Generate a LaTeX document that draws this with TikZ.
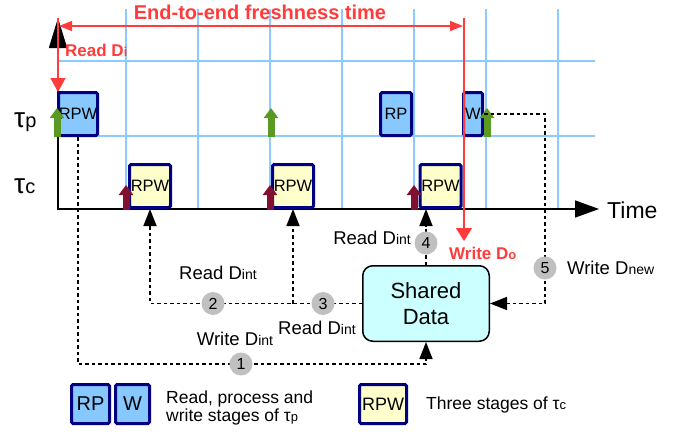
\documentclass[tikz,border=0pt]{standalone}
\usepackage{fontspec}
\setmainfont{Liberation Sans}
\usetikzlibrary{arrows.meta}

\definecolor{gridblue}{HTML}{8CCBFF}
\definecolor{boxblue}{HTML}{87C8FF}
\definecolor{navy}{HTML}{000080}
\definecolor{paleyellow}{HTML}{FFFFCC}
\definecolor{palecyan}{HTML}{CCFFFF}
\definecolor{freshred}{HTML}{FF3B3B}
\definecolor{relgreen}{HTML}{5B9A22}
\definecolor{relmaroon}{HTML}{7F1030}
\definecolor{stepgrey}{HTML}{C0C0C0}

\newcommand\fsz[1]{\fontsize{#1}{#1}\selectfont}
\newcommand\lo[1]{{\fsz{14}#1}}
\newcommand\rlo[1]{{\fsz{13}#1}}

\begin{document}
\begin{tikzpicture}[x=1pt,y=-1pt,
  gridline/.style={draw=gridblue, line width=2pt},
  axisline/.style={line width=1.6pt, line join=miter},
  stage/.style={draw=navy, line width=3pt, rounded corners=1.5pt, inner sep=0pt, font=\fsz{16.5}},
  pstage/.style={stage, fill=boxblue, minimum height=43pt},
  cstage/.style={stage, fill=paleyellow, minimum width=41pt, minimum height=43pt},
  fresh/.style={draw=freshred, line width=1.5pt},
  release/.style={line width=7pt, -{Triangle[length=10pt,width=14pt]}},
  flow/.style={line width=1.5pt, dash pattern=on 3.5pt off 3pt, -{Triangle[length=17pt,width=13pt]}},
  stepno/.style={circle, fill=stepgrey, minimum size=23pt, inner sep=0pt, font=\fsz{16}},
  lab/.style={inner sep=0pt, font=\fsz{18.5}},
  redlab/.style={inner sep=0pt, text=freshred, font=\bfseries\fsz{17}},
  legend/.style={inner sep=0pt, font=\fsz{17.5}, align=left},
]
\useasboundingbox[fill=white] (0,0) rectangle (686,434);

% time grid
\foreach \gx in {126,198,270,342,414,486,558}
  \draw[gridline] (\gx,9) -- (\gx,209);
\foreach \gy in {61,136}
  \draw[gridline] (58,\gy) -- (595,\gy);

% axes
\draw[axisline, {Triangle[length=30pt,width=18pt]}-{Triangle[length=24pt,width=17pt]}]
  (58,18) -- (58,209) -- (599,209);
\node[inner sep=0pt, anchor=west, font=\fsz{23}] (time) at (607,210) {Time};
\node[inner sep=0pt, anchor=base west] (taup) at (14,127) {{\fsz{28}τ}{\fsz{20}p}};
\node[inner sep=0pt, anchor=base west] (tauc) at (14,193) {{\fsz{28}τ}{\fsz{20}c}};

% producer stages
\node[pstage, minimum width=39pt] (p1) at (78,114) {RPW};
\node[pstage, minimum width=31pt] (prp) at (396,114) {RP};
\node[pstage, minimum width=19pt] (pw) at (473,114) {W};

% end-to-end freshness interval
\node[inner sep=0pt, text=freshred, font=\bfseries\fsz{20}] (e2e) at (260,12) {End-to-end freshness time};
\draw[fresh, {Triangle[length=13pt,width=10pt]}-{Triangle[length=13pt,width=10pt]}] (59,26) -- (463,26);
\draw[fresh, -{Triangle[length=14pt,width=15pt]}] (58,18) -- (58,92);
\draw[fresh, -{Triangle[length=13pt,width=16pt]}] (464,18) -- (464,241);
\node[redlab, anchor=west] (readdi) at (65,50) {Read D\rlo{i}};
\node[redlab, anchor=west] (writedo) at (449,253) {Write D\rlo{o}};

% consumer stages
\node[cstage] (c1) at (150,186) {RPW};
\node[cstage] (c2) at (293,186) {RPW};
\node[cstage] (c3) at (440.5,186) {RPW};

% release arrows
\foreach \rx in {57,271,487}
  \draw[release, relgreen] (\rx,137) -- (\rx,108);
\foreach \rx in {126,270,414}
  \draw[release, relmaroon] (\rx,210) -- (\rx,185);

% shared data and accesses
\node[draw, line width=1.5pt, fill=palecyan, rounded corners=10pt,
      minimum width=126.5pt, minimum height=75.5pt, align=center,
      font=\fsz{22}, inner sep=0pt] (sd) at (426,303.5)
      {Shared\\[4pt]Data};

\coordinate (k1) at (241,364);
\coordinate (k2) at (213,303.5);
\coordinate (k3) at (323,303.5);
\coordinate (k4) at (426,243);
\coordinate (k5) at (545,268);

\draw[flow] (p1.south) |- (k1) -| (sd.south);
\draw[flow] (sd.west) -| (c1.south);
\draw[flow] (c2.south |- sd.west) -- (c2.south);
\draw[flow] (sd.north) -- (sd.north |- c3.south);
\draw[flow] (pw.east) -| (k5) |- (sd.east);

\node[stepno] (s1) at (k1) {1};
\node[stepno] (s2) at (k2) {2};
\node[stepno] (s3) at (k3) {3};
\node[stepno] (s4) at (k4) {4};
\node[stepno] (s5) at (k5) {5};

\node[lab] (l1) at (235,339) {Write D\lo{int}};
\node[lab] (l2) at (218,273) {Read D\lo{int}};
\node[lab] (l3) at (317,328) {Read D\lo{int}};
\node[lab, anchor=east] (l4) at (411,238) {Read D\lo{int}};
\node[lab, anchor=west] (l5) at (567,268) {Write D\lo{new}};

% legend
\node[stage, fill=boxblue, minimum width=38pt, minimum height=39pt, font=\fsz{20}] (lrp) at (90.5,404) {RP};
\node[stage, fill=boxblue, minimum width=34pt, minimum height=39pt, font=\fsz{20}] (lw) at (132.5,404) {W};
\node[legend, anchor=west] (ltp) at (166,408) {Read, process and\\[1pt]write stages of τ{\fsz{13}p}};
\node[stage, fill=paleyellow, minimum width=47pt, minimum height=39pt, font=\fsz{18}] (lrpw) at (383,404) {RPW};
\node[legend, anchor=west] (ltc) at (426,405) {Three stages of τ{\fsz{13}c}};
\end{tikzpicture}
\end{document}
